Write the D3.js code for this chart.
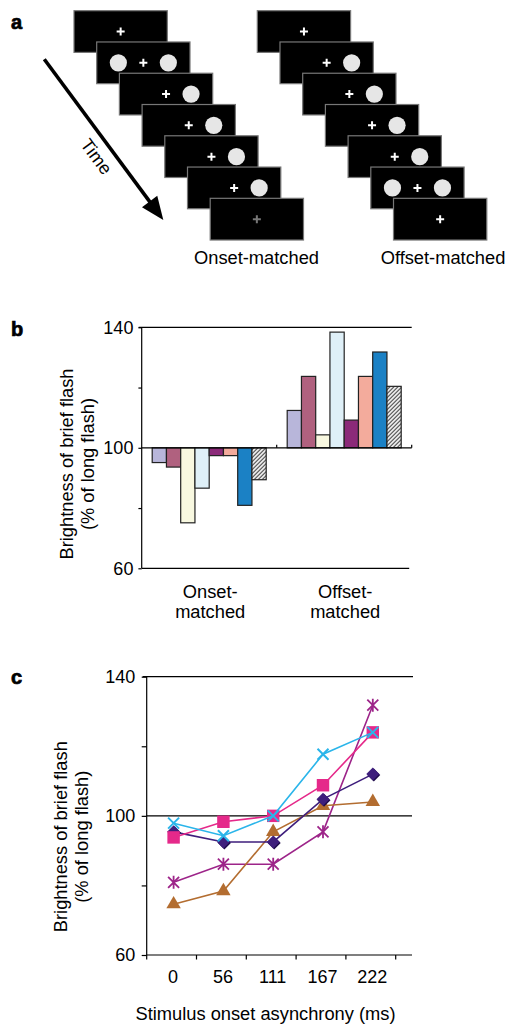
<!DOCTYPE html>
<html>
<head>
<meta charset="utf-8">
<script src="https://cdn.jsdelivr.net/npm/d3@7"></script>
<style>
  html, body { margin: 0; padding: 0; background: #fff; }
  svg { display: block; font-family: "Liberation Sans", Arial, Helvetica, sans-serif; }
</style>
</head>
<body>
<svg id="chart" width="509" height="1026"></svg>
<script>
// ---------------- DATA ----------------
// Panel a: stimulus sequences (circle sides shown per frame: -1 = left, 1 = right)
const onsetFrames = [[], [-1, 1], [1], [1], [1], [1], []];
const offsetFrames = [[], [1], [1], [1], [1], [-1, 1], []];
const onsetDimLast = true;

// Panel b: bar chart
const barCategories = ["Onset-matched", "Offset-matched"];
const barCategoryLines = [["Onset-", "matched"], ["Offset-", "matched"]];
const barSubjects = ["S1", "S2", "S3", "S4", "S5", "S6", "S7", "Mean"];
const onsetValues = [95.1, 93.6, 75.1, 86.6, 97.4, 97.4, 80.9, 89.4];
const offsetValues = [112.4, 123.7, 104.3, 138.4, 109.2, 123.7, 131.8, 120.4];
const barColors = ["#b8b6da", "#b0617f", "#f8f8e0", "#dff0f8", "#8b2a79", "#f3ab9c", "#1b81c5", "url(#hatch)"];

// Panel c: line chart
const soaLabels = ["0", "56", "111", "167", "222"];
const cyanX = [97.9, 94.3, 100, 117.7, 124];
const pinkSquare = [93.8, 98.3, 100, 108.8, 124];
const purpleDiamond = [95.4, 92.5, 92.5, 104.8, 112];
const brownTriangle = [74.6, 78.4, 95.4, 102.9, 104];
const magentaStar = [80.9, 86.1, 86.1, 95.4, 131.8];

const yTicks = [60, 80, 100, 120, 140];
const yTickLabels = ["60", "", "100", "", "140"];

// ---------------- DRAW ----------------
const svg = d3.select("#chart");
const defs = svg.append("defs");
const hatch = defs.append("pattern").attr("id", "hatch")
  .attr("patternUnits", "userSpaceOnUse").attr("width", 4).attr("height", 4);
hatch.append("rect").attr("width", 4).attr("height", 4).attr("fill", "#fff");
hatch.append("path").attr("d", "M-1,1 L1,-1 M0,4 L4,0 M3,5 L5,3")
  .attr("stroke", "#333").attr("stroke-width", 1.1);

const panelLabel = (t, x, y) => svg.append("text").attr("x", x).attr("y", y)
  .attr("font-size", 20).attr("font-weight", "bold")
  .attr("stroke", "#000").attr("stroke-width", 0.7)
  .attr("font-family", "Liberation Sans, Arial, sans-serif").text(t);

// ===== Panel a =====
panelLabel("a", 11, 29);
const fw = 93.3, fh = 41.7, fdx = 22.7, fdy = 31.27;
function drawSeq(frames, x0, y0, dimLast) {
  frames.forEach((circ, i) => {
    const g = svg.append("g").attr("transform", `translate(${x0 + fdx * i},${y0 + fdy * i})`);
    g.append("rect").attr("width", fw).attr("height", fh)
      .attr("fill", "#000").attr("stroke", "#777").attr("stroke-width", 1.2);
    const cx = fw / 2, cy = fh / 2;
    const cc = (dimLast && i === frames.length - 1) ? "#777" : "#fff";
    g.append("path").attr("d", `M${cx - 4},${cy} H${cx + 4} M${cx},${cy - 4} V${cy + 4}`)
      .attr("stroke", cc).attr("stroke-width", 2);
    circ.forEach(s => {
      g.append("circle").attr("cx", cx + s * 25).attr("cy", cy).attr("r", 8.6).attr("fill", "#e6e6e6");
    });
  });
}
drawSeq(onsetFrames, 74, 10.7, onsetDimLast);
drawSeq(offsetFrames, 257.3, 10.7, false);

// arrow
{
  const x1 = 44.3, y1 = 59.3, x2 = 163.3, y2 = 220;
  const ang = Math.atan2(y2 - y1, x2 - x1);
  const hl = 23, hw = 9.5;
  const bx = x2 - hl * Math.cos(ang), by = y2 - hl * Math.sin(ang);
  svg.append("line").attr("x1", x1).attr("y1", y1).attr("x2", bx + 2 * Math.cos(ang)).attr("y2", by + 2 * Math.sin(ang))
    .attr("stroke", "#000").attr("stroke-width", 3.6);
  const px = -Math.sin(ang), py = Math.cos(ang);
  svg.append("path").attr("d", `M${x2},${y2} L${bx + px * hw},${by + py * hw} L${bx - px * hw},${by - py * hw} Z`).attr("fill", "#000");
  svg.append("text").attr("transform", `translate(96.5,156.5) rotate(${ang * 180 / Math.PI})`)
    .attr("text-anchor", "middle").attr("dy", "0.35em").attr("font-size", 18).text("Time");
}
svg.append("text").attr("x", 256.5).attr("y", 263.5).attr("text-anchor", "middle").attr("font-size", 18.3).text("Onset-matched");
svg.append("text").attr("x", 443).attr("y", 263.5).attr("text-anchor", "middle").attr("font-size", 18.3).text("Offset-matched");

// ===== Panel b =====
panelLabel("b", 11, 336);
{
  const left = 141.7, right = 411.7;
  const y = d3.scaleLinear().domain([60, 140]).range([568.3, 327.3]);
  const x0 = d3.scaleBand().domain(barCategories).range([left, right]).padding(0);
  const inner = (x0.bandwidth() - 114) / 2;
  const x1 = d3.scaleBand().domain(barSubjects).range([inner, x0.bandwidth() - inner]).padding(0);
  const g = svg.append("g");
  const groups = [onsetValues, offsetValues];
  barCategories.forEach((cat, ci) => {
    const gg = g.append("g").attr("transform", `translate(${x0(cat)},0)`);
    gg.selectAll("rect").data(groups[ci]).join("rect")
      .attr("x", (d, i) => x1(barSubjects[i]))
      .attr("width", x1.bandwidth())
      .attr("y", d => y(Math.max(d, 100)))
      .attr("height", d => Math.abs(y(d) - y(100)))
      .attr("fill", (d, i) => barColors[i])
      .attr("stroke", "#222").attr("stroke-width", 1.2);
  });
  g.append("line").attr("x1", left - 3).attr("x2", right).attr("y1", y(140)).attr("y2", y(140)).attr("stroke", "#000").attr("stroke-width", 1.2);
  g.append("line").attr("x1", left).attr("x2", right).attr("y1", y(100)).attr("y2", y(100)).attr("stroke", "#000").attr("stroke-width", 1.2);
  g.append("line").attr("x1", left).attr("x2", right - 2.5).attr("y1", y(60)).attr("y2", y(60)).attr("stroke", "#000").attr("stroke-width", 1.2);
  barCategories.forEach(c => {
    g.append("line").attr("x1", x0(c) + x0.bandwidth()).attr("x2", x0(c) + x0.bandwidth())
      .attr("y1", y(100)).attr("y2", y(100) - 3).attr("stroke", "#000").attr("stroke-width", 1.2);
  });
  const ax = d3.axisLeft(y).tickValues(yTicks).tickSize(3.3).tickPadding(5)
    .tickFormat((d, i) => yTickLabels[i]);
  const axg = g.append("g").attr("transform", `translate(${left},0)`).call(ax);
  axg.select(".domain").attr("d", `M0,${y(140)}V${y(60)}`).attr("stroke-width", 1.2);
  axg.selectAll(".tick line").attr("stroke-width", 1.2);
  axg.selectAll("text").attr("font-size", 18).attr("font-family", "Liberation Sans, Arial, sans-serif").attr("fill", "#000");
  barCategories.forEach((c, ci) => {
    barCategoryLines[ci].forEach((t, li) => {
      g.append("text").attr("x", x0(c) + x0.bandwidth() / 2 + 1).attr("y", 598.3 + li * 19.2)
        .attr("text-anchor", "middle").attr("font-size", 18.3).text(t);
    });
  });
  g.append("text").attr("transform", "translate(73.3,464) rotate(-90)").attr("text-anchor", "middle").attr("font-size", 18.3).text("Brightness of brief flash");
  g.append("text").attr("transform", "translate(93.5,464) rotate(-90)").attr("text-anchor", "middle").attr("font-size", 18.3).text("(% of long flash)");
}

// ===== Panel c =====
panelLabel("c", 11, 684);
{
  const left = 146.7, right = 412;
  const y = d3.scaleLinear().domain([60, 140]).range([955, 676.7]);
  const x = d3.scaleBand().domain(soaLabels).range([left, left + 49.8 * 5]).padding(0);
  const g = svg.append("g");
  g.append("line").attr("x1", left - 4).attr("x2", right + 1).attr("y1", y(140)).attr("y2", y(140)).attr("stroke", "#000").attr("stroke-width", 1.2);
  g.append("line").attr("x1", left).attr("x2", right).attr("y1", y(100)).attr("y2", y(100)).attr("stroke", "#000").attr("stroke-width", 1.2);

  const ax = d3.axisLeft(y).tickValues(yTicks).tickSize(5).tickPadding(6.5)
    .tickFormat((d, i) => yTickLabels[i]);
  const axg = g.append("g").attr("transform", `translate(${left},0)`).call(ax);
  axg.select(".domain").attr("d", `M0,${y(140)}V${y(60)}`).attr("stroke-width", 1.2);
  axg.selectAll(".tick line").attr("stroke-width", 1.2);
  axg.selectAll("text").attr("font-size", 18).attr("font-family", "Liberation Sans, Arial, sans-serif").attr("fill", "#000");

  const xg = g.append("g").attr("transform", `translate(0,${y(60)})`);
  xg.append("line").attr("x1", left).attr("x2", right).attr("stroke", "#000").attr("stroke-width", 1.2);
  const bounds = soaLabels.map(s => x(s)).concat([x(soaLabels[soaLabels.length - 1]) + x.bandwidth()]);
  xg.selectAll("line.t").data(bounds).join("line").attr("class", "t")
    .attr("x1", d => d).attr("x2", d => d).attr("y1", 0).attr("y2", 4.5).attr("stroke", "#000").attr("stroke-width", 1.2);
  xg.selectAll("text").data(soaLabels).join("text")
    .attr("x", d => x(d) + x.bandwidth() / 2 + 1.5).attr("y", 28)
    .attr("text-anchor", "middle").attr("font-size", 18).text(d => d);
  g.append("text").attr("x", 265.5).attr("y", 1020).attr("text-anchor", "middle").attr("font-size", 18.3).text("Stimulus onset asynchrony (ms)");

  g.append("text").attr("transform", "translate(66.6,836.7) rotate(-90)").attr("text-anchor", "middle").attr("font-size", 18.3).text("Brightness of brief flash");
  g.append("text").attr("transform", "translate(87.5,836.7) rotate(-90)").attr("text-anchor", "middle").attr("font-size", 18.3).text("(% of long flash)");

  const cxp = i => x(soaLabels[i]) + x.bandwidth() / 2 + 2;
  const line = d3.line().x((d, i) => cxp(i)).y(d => y(d));

  const series = [
    { v: magentaStar, c: "#9d2489", m: "star" },
    { v: brownTriangle, c: "#b36d30", m: "tri" },
    { v: purpleDiamond, c: "#3e1e7c", m: "diamond" },
    { v: pinkSquare, c: "#e5298a", m: "square" },
    { v: cyanX, c: "#2ab5ea", m: "x" }
  ];
  series.forEach(s => {
    const sg = g.append("g");
    sg.append("path").attr("d", line(s.v)).attr("fill", "none").attr("stroke", s.c).attr("stroke-width", 1.6);
    s.v.forEach((d, i) => {
      const px = cxp(i), py = y(d);
      if (s.m === "square") {
        sg.append("path").attr("d", d3.symbol(d3.symbolSquare, 155)()).attr("transform", `translate(${px},${py})`).attr("fill", s.c);
      } else if (s.m === "diamond") {
        sg.append("path").attr("d", d3.symbol(d3.symbolSquare, 84)()).attr("transform", `translate(${px + 1},${py + 1}) rotate(45)`).attr("fill", "#1e0b4a");
        sg.append("path").attr("d", d3.symbol(d3.symbolSquare, 84)()).attr("transform", `translate(${px},${py}) rotate(45)`).attr("fill", s.c);
      } else if (s.m === "tri") {
        sg.append("path").attr("d", d3.symbol(d3.symbolTriangle, 90)()).attr("transform", `translate(${px},${py})`).attr("fill", s.c);
      } else if (s.m === "x") {
        const r = 5.5;
        sg.append("path").attr("d", `M${px - r},${py - r}L${px + r},${py + r}M${px - r},${py + r}L${px + r},${py - r}`)
          .attr("stroke", s.c).attr("stroke-width", 2);
      } else if (s.m === "star") {
        const r = 5.5;
        sg.append("path").attr("d", `M${px - r},${py - r}L${px + r},${py + r}M${px - r},${py + r}L${px + r},${py - r}M${px},${py - r - 1}V${py + r + 1}`)
          .attr("stroke", s.c).attr("stroke-width", 1.8);
      }
    });
  });
}
</script>
</body>
</html>
